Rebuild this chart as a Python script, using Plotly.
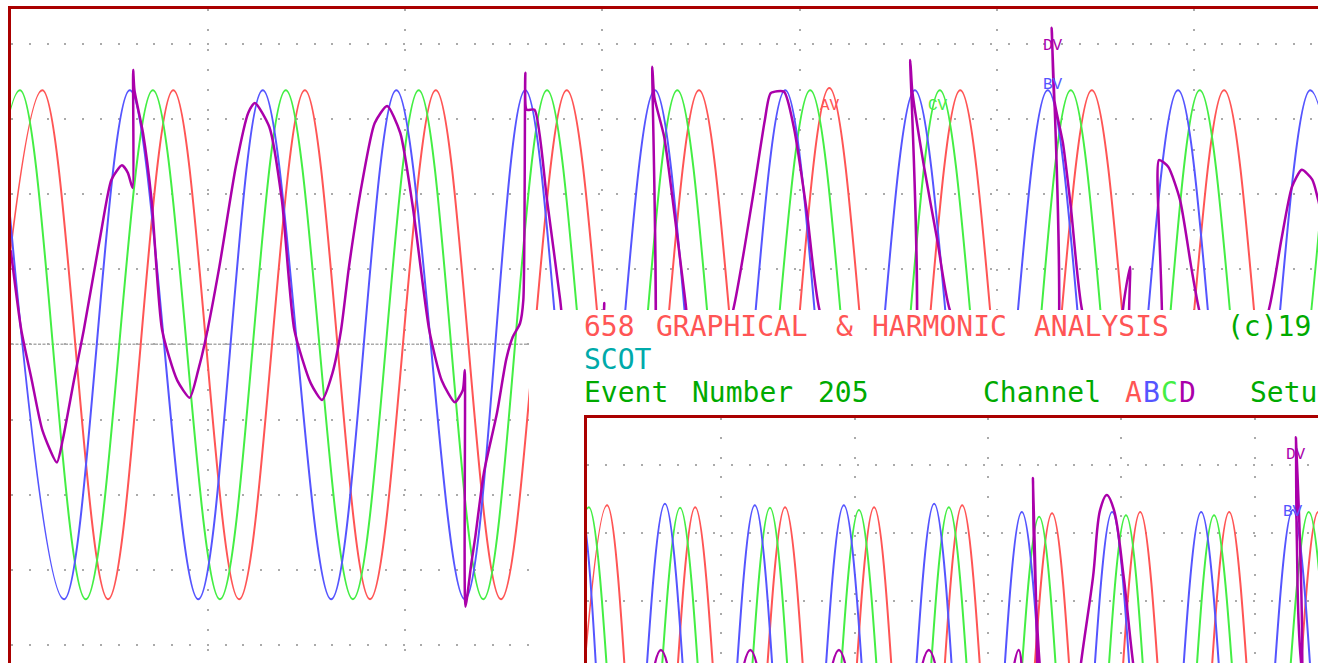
import plotly.graph_objects as go

W, H = 1318, 663

# ---------------- main record: time (ms) / amplitude (div) ----------------
# channel A (red) - alternating troughs / peaks
a_t = [-5.2, 4.9, 14.9, 24.8, 34.8, 44.8, 54.7, 64.7, 74.6, 84.6, 94.7,
       104.7, 114.7, 124.5, 134.5, 144.4, 154.4, 164.4, 174.5, 184.5, 194.5, 204.4]
a_v = [-3.39, 3.38, -3.39, 3.38, -3.39, 3.38, -3.39, 3.38, -3.39, 3.38, -3.39,
       3.38, -3.39, 3.41, -3.39, 3.38, -3.39, 3.38, -3.39, 3.38, -3.39, 3.38]
# channel B (blue)
b_t = [-1.7, 8.2, 18.2, 28.6, 38.4, 48.8, 58.7, 69.1, 78.3, 88.1, 98.0,
       107.9, 117.8, 127.6, 137.5, 147.7, 157.7, 167.6, 177.5, 187.5, 197.6, 207.6]
b_v = [3.38, -3.39, 3.38, -3.39, 3.38, -3.39, 3.38, -3.39, 3.38, -3.39, 3.38,
       -3.39, 3.38, -3.39, 3.38, -3.39, 3.38, -3.39, 3.38, -3.39, 3.38, -3.39]
# channel C (green)
c_t = [-8.5, 1.5, 11.5, 21.7, 31.9, 41.9, 52.1, 62.1, 71.9, 81.6, 91.6,
       101.4, 111.4, 121.6, 131.6, 141.3, 151.4, 161.2, 171.1, 180.8, 190.9, 200.8]
c_v = [-3.39, 3.38, -3.39, 3.38, -3.39, 3.38, -3.39, 3.38, -3.39, 3.38, -3.39,
       3.38, -3.39, 3.38, -3.39, 3.38, -3.39, 3.38, -3.39, 3.38, -3.39, 3.38]
# channel D (purple)
d_t = [0.1, 1.7, 3.3, 4.9, 7.1, 8.0, 9.7, 11.2, 13.8, 15.4, 17.0, 17.9, 18.6, 18.7, 18.9,
       20.2, 21.5, 23.1, 25.4, 27.3, 28.6, 29.6, 31.8, 34.3, 36.2, 37.2, 39.4, 41.3, 43.2,
       45.7, 47.4, 49.0, 50.3, 51.5, 53.5, 55.4, 57.3, 59.3, 61.2, 63.7, 65.6, 67.6, 68.8,
       69.1, 69.2, 70.1, 70.7, 72.0, 74.0, 75.4, 76.4, 77.5, 78.0, 78.3, 78.5, 79.7, 81.6,
       83.6, 85.9, 89.7, 90.3, 90.4, 95.7, 97.4, 97.6, 97.9, 99.4, 100.7, 102.6, 104.9,
       109.9, 112.8, 114.7, 115.6, 117.6, 119.1, 121.1, 123.0, 129.2, 136.5, 136.8, 137.1,
       138.9, 140.9, 142.8, 150.4, 158.0, 158.3, 158.7, 160.0, 161.2, 162.9, 167.2, 169.3,
       170.2, 170.5, 174.5, 174.6, 176.0, 177.8, 179.5, 180.7, 185.4, 191.3, 193.2, 194.8,
       196.3, 197.9, 198.8, 200.6]
d_v = [1.25, 0.19, -0.48, -1.14, -1.57, -1.27, -0.48, 0.19, 1.48, 2.19, 2.38, 2.28, 2.08, 3.65, 3.38,
       2.81, 1.92, 0.19, -0.48, -0.71, -0.34, 0.02, 1.03, 2.36, 3.08, 3.21, 2.89, 1.92, 0.19,
       -0.52, -0.74, -0.38, 0.19, 1.03, 2.15, 2.94, 3.17, 2.81, 1.83, 0.19, -0.48, -0.77, -0.61,
       -0.34, -3.49, -2.91, -2.56, -1.71, -0.91, -0.20, 0.10, 0.28, 0.59, 3.61, 3.12, 3.12, 1.92,
       0.59, -1.01, -0.50, 0.55, -0.50, -1.01, -1.01, 3.69, 3.29, 2.76, 1.92, 0.59, -1.01,
       0.46, 1.92, 2.98, 3.34, 3.36, 2.89, 1.75, 0.46, -1.01, -1.01, 3.78, 3.38,
       2.36, 1.39, 0.46, -1.01, -1.01, 4.21, 3.25, 2.68, 1.83, 0.46, -0.80, 0.59,
       1.03, -0.30, -0.30, 2.45, 2.36, 1.92, 1.03, 0.46, -1.01, 0.46, 1.39, 2.09,
       2.32, 2.19, 1.92, 1.20]

# ---------------- inset record ----------------
ia_t = [-5.5, 4.4, 14.3, 24.2, 34.3, 44.4, 54.5, 64.4, 74.3, 84.2, 94.3, 104.4,
        114.3, 124.2, 134.3, 144.2, 154.3, 164.2, 174.3]
ia_v = [-3.4, 3.41, -3.4, 3.38, -3.4, 3.38, -3.4, 3.38, -3.4, 3.41, -3.4, 3.29,
        -3.4, 3.31, -3.4, 3.31, -3.4, 3.31, -3.4]
ib_t = [-11.8, -1.7, 7.3, 17.4, 27.5, 37.6, 47.5, 57.6, 67.8, 77.9, 87.8, 97.6,
        107.8, 117.9, 127.8, 137.9, 148.2, 158.5, 168.4, 178.5]
ib_v = [-3.4, 3.41, -3.4, 3.43, -3.4, 3.41, -3.4, 3.41, -3.4, 3.43, -3.4, 3.31,
        -3.4, 3.31, -3.4, 3.31, -3.4, 3.34, -3.4, 3.34]
ic_t = [-9.8, 0.3, 10.5, 20.8, 30.9, 41.0, 50.9, 61.0, 71.1, 81.2, 91.4, 101.5,
        111.1, 121.0, 130.9, 140.8, 151.4, 162.1, 172.0, 182.1]
ic_v = [-3.4, 3.38, -3.4, 3.37, -3.4, 3.37, -3.4, 3.34, -3.4, 3.38, -3.4, 3.24,
        -3.4, 3.26, -3.4, 3.26, -3.4, 3.31, -3.4, 3.31]
id_t = [-4.0, 6.5, 16.5, 26.5, 36.6, 46.5, 56.5, 66.6, 76.7, 86.8, 96.9, 99.0, 100.0,
        100.1, 100.3, 101.7, 106.0, 110.9, 113.6, 115.2, 116.7, 118.3, 120.5, 122.6,
        130.0, 150.0, 159.0, 159.2, 159.4, 160.5, 166.0]
id_v = [-1.0, -2.5, 1.28, -2.5, 1.28, -2.5, 1.28, -2.5, 1.28, -2.5, 1.28, -1.0, -1.0,
        3.81, 2.9, 1.0, -1.5, 1.09, 2.35, 3.34, 3.56, 3.34, 2.35, 1.09,
        -2.5, -2.5, -1.0, 4.41, 2.9, 1.0, -1.0]

# channel labels (text, t, v, channel)
main_labels = [("AV", 124.6, 3.17, "A"), ("CV", 141.0, 3.17, "C"),
               ("DV", 158.5, 3.97, "D"), ("BV", 158.5, 3.45, "B")]
inset_labels = [("DV", 159.2, 4.15, "D"), ("BV", 158.5, 3.31, "B")]

# header words: (text, left pixel, cap-centre pixel, colour key)
header_words = [
    ("658", 584, 326, "tr"), ("GRAPHICAL", 656, 326, "tr"), ("&amp;", 836, 326, "tr"),
    ("HARMONIC", 872, 326, "tr"), ("ANALYSIS", 1034, 326, "tr"), ("(c)19", 1227, 326, "tg"),
    ("SCOT", 584, 359, "tc"),
    ("Event", 584, 392, "tg"), ("Number", 692, 392, "tg"), ("205", 818, 392, "tg"),
    ("Channel", 983, 392, "tg"), ("A", 1125, 392, "A"), ("B", 1143, 392, "B"),
    ("C", 1161, 392, "C"), ("D", 1179, 392, "D"), ("Setu", 1250, 392, "tg"),
]

RED, BLUE, GREEN, PURPLE = "#ff5555", "#5555ff", "#44ee44", "#aa00aa"
COL = {"A": RED, "B": BLUE, "C": GREEN, "D": PURPLE,
       "tr": "#ff5555", "tc": "#00aaaa", "tg": "#00aa00"}
BORDER = "#aa0000"
GRID = "#aaaaaa"

fig = go.Figure()


def wave(x, y, color, ax, width=2, smoothing=1.0):
    fig.add_trace(go.Scatter(x=x, y=y, mode="lines", xaxis="x" + ax, yaxis="y" + ax,
                             line=dict(color=color, width=width, shape="spline",
                                       smoothing=smoothing),
                             hoverinfo="skip", showlegend=False))


wave(a_t, a_v, RED, "")
wave(c_t, c_v, GREEN, "")
wave(b_t, b_v, BLUE, "")
wave(d_t, d_v, PURPLE, "", width=2.5, smoothing=0.6)

# white overlay panel (empty subplot whose background hides the main record)
fig.add_trace(go.Scatter(x=[], y=[], xaxis="x2", yaxis="y2", showlegend=False))

wave(ia_t, ia_v, RED, "3")
wave(ic_t, ic_v, GREEN, "3")
wave(ib_t, ib_v, BLUE, "3")
wave(id_t, id_v, PURPLE, "3", width=2.5)

blank = dict(showgrid=False, zeroline=False, showticklabels=False, showline=False, ticks="")


def scope_axis(**kw):
    d = dict(showgrid=True, gridcolor=GRID, gridwidth=2, zeroline=False,
             showticklabels=False, ticks="", showline=True, linecolor=BORDER,
             linewidth=3, fixedrange=True)
    d.update(kw)
    return d


fig.update_layout(
    width=W, height=H, autosize=False,
    margin=dict(l=0, r=0, t=0, b=0, pad=0),
    paper_bgcolor="white", plot_bgcolor="white",
    showlegend=False, hovermode=False,
    xaxis=scope_axis(domain=[11 / W, 1], range=[0.137, 198.77], side="top",
                     tick0=0, dtick=30, griddash="2px,18px", anchor="y"),
    yaxis=scope_axis(domain=[0, 1 - 9 / H], range=[-4.238, 4.459], side="left",
                     tick0=0, dtick=1, griddash="2px,15.8px", anchor="x"),
    xaxis2=dict(domain=[529 / W, 1], range=[0, 1], anchor="y2", **blank),
    yaxis2=dict(domain=[0, 1 - 310 / H], range=[0, 1], anchor="x2", **blank),
    xaxis3=scope_axis(domain=[586.5 / W, 1], range=[-0.225, 164.16], side="top",
                      tick0=0, dtick=30, griddash="2px,17.5px", anchor="y3"),
    yaxis3=scope_axis(domain=[0, 1 - 417.5 / H], range=[1.088, 4.699], side="left",
                      tick0=0, dtick=1, griddash="2px,16px", anchor="x3"),
)

# dense dotted centre line of the main record
fig.add_shape(type="line", xref="x", yref="y", x0=0.137, x1=198.77, y0=0, y1=0,
              line=dict(color=GRID, width=1.5, dash="3px,1.5px"), layer="below")

# channel labels next to the traces
for txt, t, v, ch in main_labels:
    fig.add_annotation(x=t, y=v, xref="x", yref="y", text=txt, showarrow=False,
                       font=dict(family="Liberation Mono", size=16, color=COL[ch]))
for txt, t, v, ch in inset_labels:
    fig.add_annotation(x=t, y=v, xref="x3", yref="y3", text=txt, showarrow=False,
                       font=dict(family="Liberation Mono", size=16, color=COL[ch]))

# header text block
for txt, px, py, key in header_words:
    fig.add_annotation(x=(px - 1) / W, y=1 - py / H, xref="paper", yref="paper", text=txt,
                       showarrow=False, xanchor="left", yanchor="middle", borderpad=0,
                       font=dict(family="DejaVu Sans Mono", size=28, color=COL[key]))

fig.write_html("out.html", config={"displayModeBar": False})
